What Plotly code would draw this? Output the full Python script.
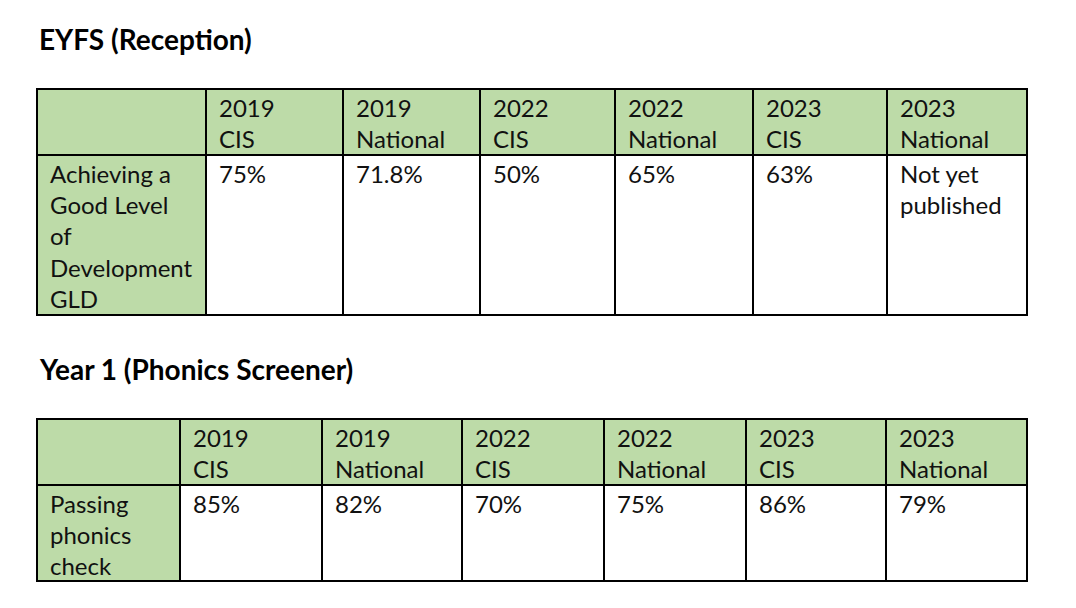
import plotly.graph_objects as go

# EYFS (Reception)
eyfs_title = "EYFS (Reception)"
eyfs_header = ["", "2019<br>CIS", "2019<br>National", "2022<br>CIS", "2022<br>National",
               "2023<br>CIS", "2023<br>National"]
eyfs_row = ["Achieving a<br>Good Level<br>of<br>Development<br>GLD", "75%", "71.8%", "50%",
            "65%", "63%", "Not yet<br>published"]

# Year 1 (Phonics Screener)
phonics_title = "Year 1 (Phonics Screener)"
phonics_header = ["", "2019<br>CIS", "2019<br>National", "2022<br>CIS", "2022<br>National",
                  "2023<br>CIS", "2023<br>National"]
phonics_row = ["Passing<br>phonics<br>check", "85%", "82%", "70%", "75%", "86%", "79%"]

GREEN = "#BDDBA8"
W, H = 1076, 608
LEFT = 29          # page body margin of 8px already taken off
PAD_X = 11
PAD_TOP = 2


def draw_table(fig, top, header, row, widths, header_h, row_h):
    edges = [LEFT]
    for w in widths:
        edges.append(edges[-1] + w)
    for i in range(len(header)):
        x0, x1 = edges[i], edges[i + 1]
        cells = [(top, top + header_h, header[i], GREEN),
                 (top + header_h, top + header_h + row_h, row[i], GREEN if i == 0 else "white")]
        for y0, y1, text, fill in cells:
            fig.add_shape(type="rect", xref="x", yref="y", x0=x0, x1=x1, y0=y0, y1=y1,
                          fillcolor=fill, line=dict(color="black", width=2), layer="below")
            if text:
                fig.add_annotation(x=x0 + PAD_X, y=y0 + PAD_TOP, text=text, xref="x", yref="y",
                                   xanchor="left", yanchor="top", align="left", showarrow=False,
                                   font=dict(family="Lato", size=24, color="#111111"))


fig = go.Figure()

draw_table(fig, 81, eyfs_header, eyfs_row, [169, 137, 137, 135, 138, 134, 140], 66, 160)
draw_table(fig, 411, phonics_header, phonics_row, [143, 142, 140, 142, 142, 140, 141], 66, 96)

for title, y in [(eyfs_title, 31), (phonics_title, 361)]:
    fig.add_annotation(text="<b>%s</b>" % title, x=LEFT, y=y, xref="x", yref="y",
                       xanchor="left", yanchor="middle", showarrow=False,
                       font=dict(family="Lato", size=28, color="black"))

fig.update_xaxes(range=[0, W], visible=False, fixedrange=True)
fig.update_yaxes(range=[H, 0], visible=False, fixedrange=True)
fig.update_layout(width=W, height=H, margin=dict(l=0, r=0, t=0, b=0),
                  paper_bgcolor="white", plot_bgcolor="white", showlegend=False)

fig.write_html("out.html")
